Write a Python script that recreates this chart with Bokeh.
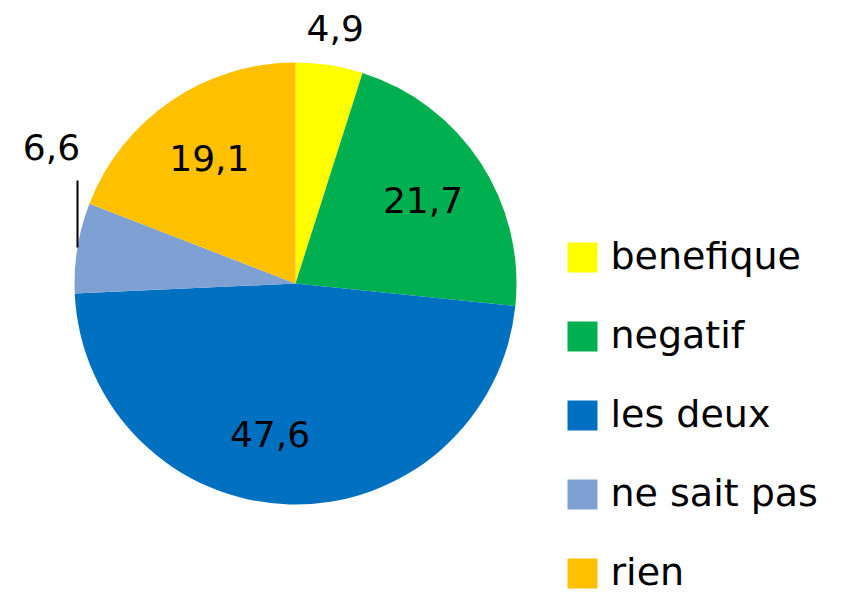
import numpy as np
from bokeh.plotting import figure
from bokeh.models import Range1d, ColumnDataSource
from bokeh.core.properties import value
from bokeh.embed import file_html
from bokeh.resources import INLINE

categories = ["benefique", "negatif", "les deux", "ne sait pas", "rien"]
values = [4.9, 21.7, 47.6, 6.6, 19.1]
labels = ["4,9", "21,7", "47,6", "6,6", "19,1"]
colors = ["#FFFF00", "#00B050", "#0070C0", "#7EA0D2", "#FFC000"]

FONT = "DejaVu Sans"
W, H = 827, 595
TOP = 611
p = figure(width=W, height=H, output_backend="svg", toolbar_location=None,
           x_range=Range1d(0, W), y_range=Range1d(TOP - H, TOP),
           min_border=0, outline_line_color=None, background_fill_color="white")
p.axis.visible = False
p.grid.visible = False

# page coordinates: x = screen x, y = 611 - screen y
cx, cy, R = 295, TOP - 283, 221
vals = np.array(values)
frac = vals / vals.sum()
cum = np.cumsum(frac)
start = np.pi / 2 - (cum - frac) * 2 * np.pi
end = np.pi / 2 - cum * 2 * np.pi
mid = (start + end) / 2

src = ColumnDataSource(dict(cat=categories, start=start, end=end, color=colors))
p.wedge(x=cx, y=cy, radius=R, start_angle="start", end_angle="end",
        direction="clock", fill_color="color", line_color=None, source=src)

# data labels
lx, ly, lt = [], [], []
for i, lab in enumerate(labels):
    if categories[i] in ("negatif", "les deux", "rien"):
        a = mid[i]
        if categories[i] == "les deux":
            a -= np.radians(8)
        lx.append(cx + 0.69 * R * np.cos(a))
        ly.append(cy + 0.69 * R * np.sin(a))
    elif categories[i] == "benefique":
        lx.append(cx + 1.17 * R * np.cos(mid[i]))
        ly.append(cy + 1.17 * R * np.sin(mid[i]))
    else:
        lx.append(51)
        ly.append(TOP - 146)
    lt.append(lab)
p.text(x=lx, y=ly, text=lt, text_font=value(FONT), text_font_size="36px",
       text_align="center", text_baseline="middle", text_color="black")

# leader line for small slice
p.line(x=[77, 77], y=[TOP - 180, TOP - 247], line_color="black", line_width=2)

# legend
ys = [TOP - (257 + 79 * i) for i in range(len(categories))]
p.rect(x=[582] * len(categories), y=ys, width=30, height=30,
       fill_color=colors, line_color=None)
p.text(x=[610] * len(categories), y=[y + 2 for y in ys], text=categories,
       text_font=value(FONT), text_font_size="38px",
       text_align="left", text_baseline="middle", text_color="black")

open("out.html", "w").write(file_html(p, INLINE))
